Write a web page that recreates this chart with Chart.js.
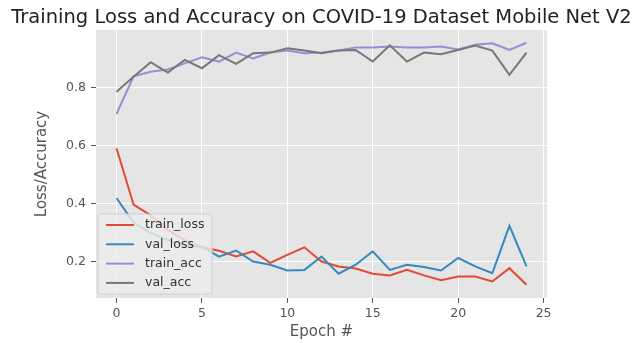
<!DOCTYPE html>
<html>
<head>
<meta charset="utf-8">
<script src="https://cdn.jsdelivr.net/npm/chart.js@4.4.1/dist/chart.umd.min.js"></script>
<style>
  html, body { margin: 0; padding: 0; background: #fff; }
  #wrap { width: 632px; height: 343px; }
</style>
</head>
<body>
<div id="wrap"><canvas id="lossChart" width="632" height="343"></canvas></div>
<script>
const epochs = [0, 1, 2, 3, 4, 5, 6, 7, 8, 9, 10, 11, 12, 13, 14, 15, 16, 17, 18, 19, 20, 21, 22, 23, 24];
const trainLoss = [0.592, 0.397, 0.36, 0.31, 0.275, 0.25, 0.238, 0.218, 0.236, 0.196, 0.224, 0.25, 0.201, 0.184, 0.177, 0.159, 0.153, 0.172, 0.153, 0.136, 0.149, 0.149, 0.132, 0.178, 0.121];
const valLoss = [0.42, 0.335, 0.3, 0.275, 0.255, 0.252, 0.218, 0.239, 0.201, 0.19, 0.17, 0.172, 0.218, 0.159, 0.19, 0.236, 0.172, 0.19, 0.182, 0.17, 0.213, 0.184, 0.161, 0.324, 0.184];
const trainAcc = [0.71, 0.84, 0.856, 0.864, 0.885, 0.906, 0.891, 0.922, 0.902, 0.922, 0.929, 0.92, 0.922, 0.929, 0.94, 0.94, 0.943, 0.94, 0.94, 0.943, 0.933, 0.949, 0.954, 0.931, 0.956];
const valAcc = [0.787, 0.839, 0.889, 0.853, 0.897, 0.868, 0.913, 0.883, 0.92, 0.922, 0.937, 0.929, 0.92, 0.929, 0.931, 0.891, 0.947, 0.891, 0.922, 0.916, 0.931, 0.946, 0.929, 0.845, 0.922];
const xTicks = [0, 5, 10, 15, 20, 25];
const yTicks = [0.2, 0.4, 0.6, 0.8];
const seriesNames = ['train_loss', 'val_loss', 'train_acc', 'val_acc'];

const colors = ['#E24A33', '#348ABD', '#988ED5', '#777777'];
const font = "'DejaVu Sans', sans-serif";

function toPoints(values) {
  return values.map((v, i) => ({ x: epochs[i], y: v }));
}

// grey ggplot panel + title
const panel = {
  id: 'panel',
  beforeDraw(chart) {
    const { ctx, chartArea: a } = chart;
    ctx.save();
    ctx.fillStyle = '#E5E5E5';
    ctx.fillRect(a.left, a.top, a.right - a.left, a.bottom - a.top);
    ctx.restore();
  },
  afterDraw(chart) {
    const { ctx, chartArea: a } = chart;
    ctx.save();
    ctx.fillStyle = '#222';
    ctx.font = `19.5px ${font}`;
    ctx.textAlign = 'center';
    ctx.textBaseline = 'alphabetic';
    ctx.fillText('Training Loss and Accuracy on COVID-19 Dataset Mobile Net V2', (a.left + a.right) / 2, 23);
    ctx.restore();
  }
};

// legend in the lower left of the panel
const boxLegend = {
  id: 'boxLegend',
  afterDatasetsDraw(chart) {
    const { ctx, chartArea: a } = chart;
    const x = a.left + 2, y = a.bottom - 84, w = 114, h = 80;
    ctx.save();
    ctx.fillStyle = 'rgba(236,236,236,0.82)';
    ctx.strokeStyle = 'rgba(204,204,204,0.9)';
    ctx.lineWidth = 1;
    ctx.beginPath();
    ctx.roundRect(x, y, w, h, 3);
    ctx.fill();
    ctx.stroke();
    ctx.font = `12.5px ${font}`;
    ctx.textBaseline = 'middle';
    seriesNames.forEach((name, i) => {
      const ly = y + 11 + i * 19.3;
      ctx.strokeStyle = colors[i];
      ctx.lineWidth = 2;
      ctx.beginPath();
      ctx.moveTo(x + 8, ly);
      ctx.lineTo(x + 36, ly);
      ctx.stroke();
      ctx.fillStyle = '#333';
      ctx.fillText(name, x + 47, ly);
    });
    ctx.restore();
  }
};

const ctx = document.getElementById('lossChart').getContext('2d');
new Chart(ctx, {
  type: 'line',
  data: {
    datasets: [trainLoss, valLoss, trainAcc, valAcc].map((vals, i) => ({
      label: seriesNames[i],
      data: toPoints(vals),
      borderColor: colors[i],
      backgroundColor: colors[i],
      borderWidth: 2,
      pointRadius: 0,
      tension: 0,
      order: 3 - i
    }))
  },
  options: {
    responsive: false,
    animation: false,
    devicePixelRatio: 1,
    layout: { padding: { left: 0, right: 85, top: 30, bottom: 0 } },
    plugins: {
      legend: { display: false },
      tooltip: { enabled: false },
      title: { display: false }
    },
    scales: {
      x: {
        type: 'linear',
        min: -1.2,
        max: 25.2,
        afterBuildTicks: scale => { scale.ticks = xTicks.map(v => ({ value: v })); },
        afterFit: scale => { scale.height = 45; },
        border: { display: false },
        grid: { color: '#ffffff', lineWidth: 1, tickColor: '#555', tickLength: 5 },
        ticks: { color: '#555', font: { family: font, size: 12.5 }, padding: 3, maxRotation: 0 },
        title: { display: true, text: 'Epoch #', color: '#555', font: { family: font, size: 15 }, padding: { top: 0, bottom: 2 } }
      },
      y: {
        min: 0.075,
        max: 1.0,
        afterBuildTicks: scale => { scale.ticks = yTicks.map(v => ({ value: v })); },
        afterFit: scale => { scale.width = 96; },
        border: { display: false },
        grid: { color: '#ffffff', lineWidth: 1, tickColor: '#555', tickLength: 5 },
        ticks: {
          color: '#555',
          font: { family: font, size: 12.5 },
          padding: 5,
          callback: v => v.toFixed(1)
        },
        title: { display: true, text: 'Loss/Accuracy', color: '#555', font: { family: font, size: 15 }, padding: { top: 33, bottom: 0 } }
      }
    }
  },
  plugins: [panel, boxLegend]
});
</script>
</body>
</html>
